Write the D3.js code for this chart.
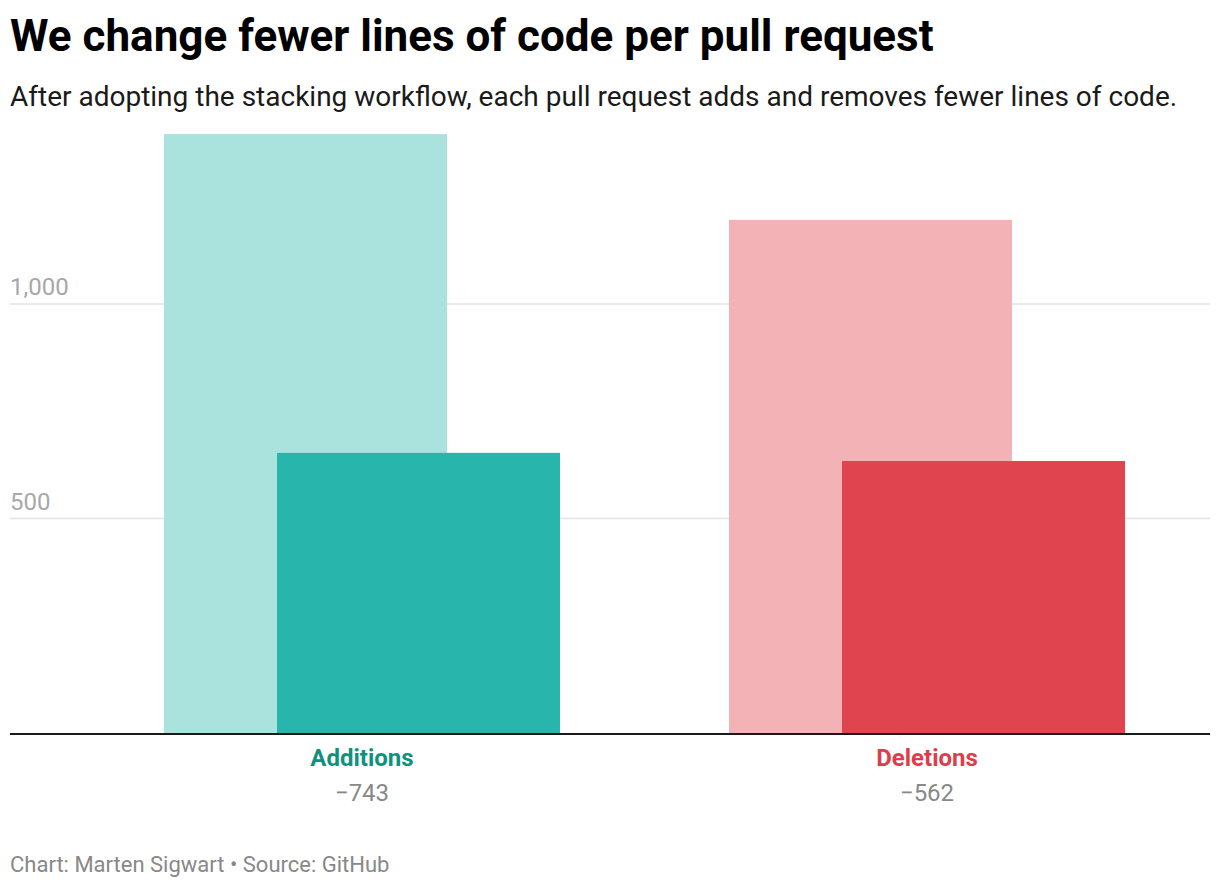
<!DOCTYPE html>
<html><head><meta charset="utf-8">
<script src="https://cdn.jsdelivr.net/npm/d3@7"></script>
<style>
body{margin:0;background:#fff;font-family:Roboto,"Open Sans",sans-serif;}
</style></head>
<body>
<svg id="chart" width="1220" height="888"></svg>
<script>
const categories = ["Additions", "Deletions"];
const beforeValues = [1396, 1196];
const afterValues = [653, 634];
const changeLabels = ["\u2212743", "\u2212562"];
const tickValues = [500, 1000];

const W = 1220, H = 888;
const svg = d3.select("#chart");
const lightColors = ["#aae2dd", "#f3b2b6"];
const darkColors = ["#28b5ab", "#e0454f"];
const labelColors = ["#0f9180", "#df3d4b"];

svg.append("text").attr("x", 10).attr("y", 51)
  .attr("font-size", 44).attr("font-weight", 700).attr("fill", "#000")
  .text("We change fewer lines of code per pull request");
svg.append("text").attr("x", 10).attr("y", 106)
  .attr("font-size", 28).attr("fill", "#1a1a1a")
  .text("After adopting the stacking workflow, each pull request adds and removes fewer lines of code.");

const y = d3.scaleLinear().domain([0, 1000]).range([733, 304]);
const x = d3.scaleBand().domain(categories).range([79.5, 1209.5]).padding(0);

const grid = svg.append("g");
grid.selectAll("line").data(tickValues).join("line")
  .attr("x1", 10).attr("x2", 1210)
  .attr("y1", d => y(d)).attr("y2", d => y(d))
  .attr("stroke", "#e3e3e3").attr("stroke-width", 1.5);
grid.selectAll("text").data(tickValues).join("text")
  .attr("x", 10).attr("y", d => y(d) - 9)
  .attr("font-size", 24).attr("fill", "#a8a8a8")
  .text(d => d3.format(",")(d));

const groupW = 396, barW = 283;
const gx = c => x(c) + x.bandwidth() / 2 - groupW / 2;

svg.append("g").selectAll("rect").data(categories).join("rect")
  .attr("x", d => gx(d)).attr("width", barW)
  .attr("y", (d, i) => y(beforeValues[i]))
  .attr("height", (d, i) => y(0) - y(beforeValues[i]))
  .attr("fill", (d, i) => lightColors[i]);

svg.append("g").selectAll("rect").data(categories).join("rect")
  .attr("x", d => gx(d) + groupW - barW).attr("width", barW)
  .attr("y", (d, i) => y(afterValues[i]))
  .attr("height", (d, i) => y(0) - y(afterValues[i]))
  .attr("fill", (d, i) => darkColors[i]);

svg.append("line").attr("x1", 10).attr("x2", 1210)
  .attr("y1", y(0) + 1).attr("y2", y(0) + 1)
  .attr("stroke", "#1a1a1a").attr("stroke-width", 2);

const lab = svg.append("g");
lab.selectAll("text.cat").data(categories).join("text").attr("class", "cat")
  .attr("x", d => x(d) + x.bandwidth() / 2).attr("y", 766)
  .attr("text-anchor", "middle").attr("font-size", 24).attr("font-weight", 700)
  .attr("fill", (d, i) => labelColors[i]).text(d => d);
lab.selectAll("text.chg").data(categories).join("text").attr("class", "chg")
  .attr("x", d => x(d) + x.bandwidth() / 2).attr("y", 801)
  .attr("text-anchor", "middle").attr("font-size", 24)
  .attr("fill", "#888").text((d, i) => changeLabels[i]);

svg.append("text").attr("x", 10).attr("y", 872)
  .attr("font-size", 22).attr("fill", "#888")
  .text("Chart: Marten Sigwart \u2022 Source: GitHub");
</script>
</body></html>
